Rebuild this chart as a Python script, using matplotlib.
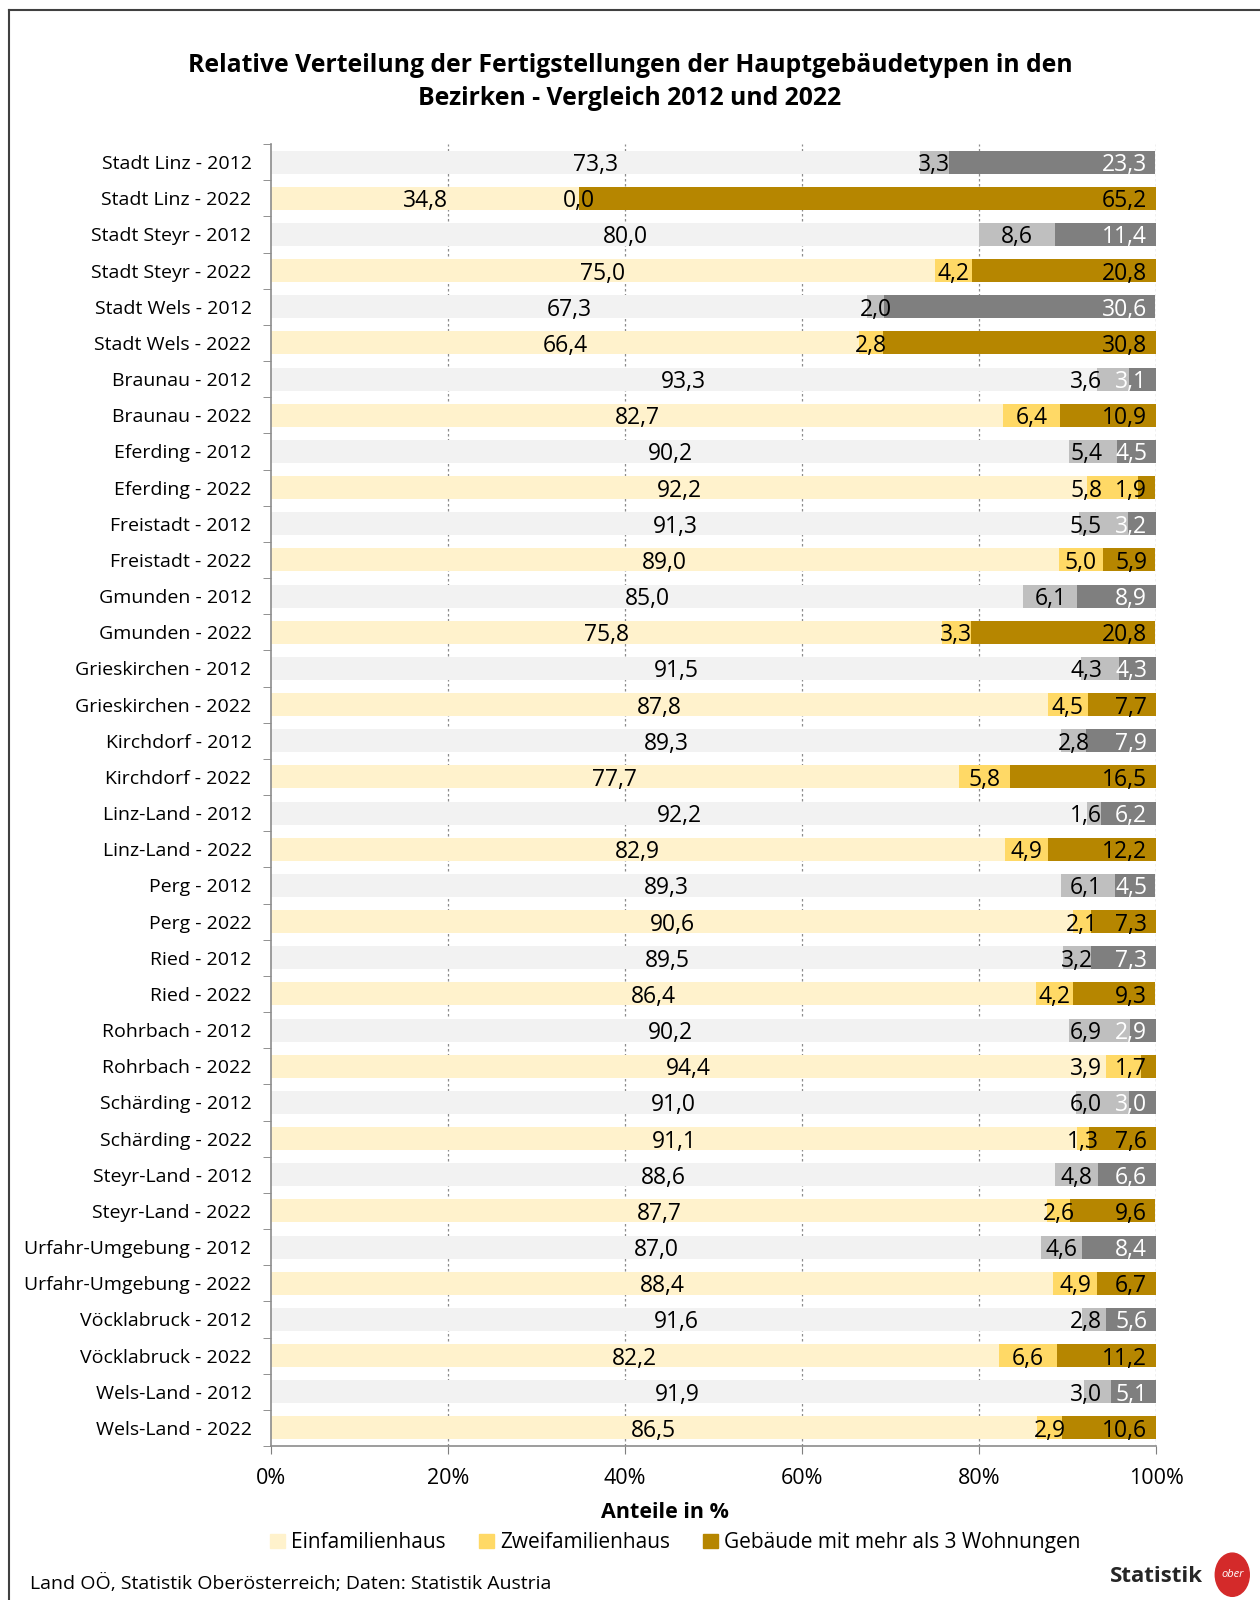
import numpy as np
import matplotlib
matplotlib.use("Agg")
import matplotlib.pyplot as plt
from matplotlib.lines import Line2D
from matplotlib.patches import Circle, Patch

plt.rcParams['font.family'] = ['Open Sans', 'DejaVu Sans']

districts = ["Stadt Linz", "Stadt Steyr", "Stadt Wels", "Braunau", "Eferding",
             "Freistadt", "Gmunden", "Grieskirchen", "Kirchdorf", "Linz-Land",
             "Perg", "Ried", "Rohrbach", "Schärding", "Steyr-Land",
             "Urfahr-Umgebung", "Vöcklabruck", "Wels-Land"]
years = ["2012", "2022"]

# shares in %, one row per district and year (2012, 2022 alternating)
efh = [73.3, 34.8, 80.0, 75.0, 67.3, 66.4, 93.3, 82.7, 90.2, 92.2,
       91.3, 89.0, 85.0, 75.8, 91.5, 87.8, 89.3, 77.7, 92.2, 82.9,
       89.3, 90.6, 89.5, 86.4, 90.2, 94.4, 91.0, 91.1, 88.6, 87.7,
       87.0, 88.4, 91.6, 82.2, 91.9, 86.5]
zfh = [3.3, 0.0, 8.6, 4.2, 2.0, 2.8, 3.6, 6.4, 5.4, 5.8,
       5.5, 5.0, 6.1, 3.3, 4.3, 4.5, 2.8, 5.8, 1.6, 4.9,
       6.1, 2.1, 3.2, 4.2, 6.9, 3.9, 6.0, 1.3, 4.8, 2.6,
       4.6, 4.9, 2.8, 6.6, 3.0, 2.9]
mfh = [23.3, 65.2, 11.4, 20.8, 30.6, 30.8, 3.1, 10.9, 4.5, 1.9,
       3.2, 5.9, 8.9, 20.8, 4.3, 7.7, 7.9, 16.5, 6.2, 12.2,
       4.5, 7.3, 7.3, 9.3, 2.9, 1.7, 3.0, 7.6, 6.6, 9.6,
       8.4, 6.7, 5.6, 11.2, 5.1, 10.6]

labels = [f"{d} - {y}" for d in districts for y in years]
n = len(labels)

colors_2012 = ["#f2f2f2", "#bfbfbf", "#7f7f7f"]
colors_2022 = ["#fff2cc", "#ffd966", "#b68600"]


def fmt(v):
    return f"{v:.1f}".replace(".", ",")


fig = plt.figure(figsize=(12.6, 16), dpi=100)
ax = fig.add_axes([0.2151, 0.09625, 0.7024, 0.81375])

y = np.arange(n)
efh_a = np.array(efh)
zfh_a = np.array(zfh)
mfh_a = np.array(mfh)
col = [colors_2012 if i % 2 == 0 else colors_2022 for i in range(n)]

ax.barh(y, efh_a, height=0.64, color=[c[0] for c in col], zorder=2)
ax.barh(y, zfh_a, left=efh_a, height=0.64, color=[c[1] for c in col], zorder=2)
ax.barh(y, mfh_a, left=efh_a + zfh_a, height=0.64, color=[c[2] for c in col], zorder=2)

ax.set_xlim(0, 100)
ax.set_ylim(n - 0.5, -0.5)
ax.set_xticks(np.arange(0, 101, 20))
ax.set_xticklabels([f"{v}%" for v in range(0, 101, 20)], fontsize=15.5)
ax.set_yticks(y)
ax.set_yticklabels(labels, fontsize=14)
ax.set_yticks(np.arange(-0.5, n, 1), minor=True)
ax.tick_params(axis='y', which='major', length=0, pad=14)
ax.tick_params(axis='y', which='minor', length=6, color='#7f7f7f', direction='out')
ax.tick_params(axis='x', length=6, color='#7f7f7f', pad=10)
for s in ['top', 'right']:
    ax.spines[s].set_visible(False)
for s in ['left', 'bottom']:
    ax.spines[s].set_color('#8c8c8c')
    ax.spines[s].set_linewidth(1.2)
for xv in range(20, 101, 20):
    ax.axvline(xv, color='#8c8c8c', linestyle=(0, (2, 2)), linewidth=0.9, zorder=1)

# data labels
zt_list, mt_list = [], []
for i in range(n):
    ax.text(efh_a[i] / 2, y[i], fmt(efh_a[i]), ha='center', va='center_baseline',
            fontsize=16.5, zorder=3)
    zt = ax.text(efh_a[i] + zfh_a[i] / 2, y[i], fmt(zfh_a[i]), ha='center',
                 va='center_baseline', fontsize=16.5, zorder=3)
    mt = ax.text(99.0, y[i], fmt(mfh_a[i]), ha='right', va='center_baseline', fontsize=16.5,
                 zorder=3, color='white' if i % 2 == 0 else 'black')
    zt_list.append(zt)
    mt_list.append(mt)

# move ZFH labels left when they would run into the MFH label
fig.canvas.draw()
r = fig.canvas.get_renderer()
ax_w = ax.get_window_extent(r).width
for zt, mt in zip(zt_list, mt_list):
    bz = zt.get_window_extent(r)
    bm = mt.get_window_extent(r)
    limit = bm.x0 - 13
    if bz.x1 > limit:
        x0, y0 = zt.get_position()
        zt.set_position((x0 - (bz.x1 - limit) / ax_w * 100, y0))

fig.text(0.5, 0.9487, "Relative Verteilung der Fertigstellungen der Hauptgebäudetypen in den\n"
         "Bezirken - Vergleich 2012 und 2022", ha='center', va='center', fontsize=17.8,
         fontweight='bold', linespacing=1.4)

fig.text(0.528, 0.0548, "Anteile in %", ha='center', va='center', fontsize=15.5,
         fontweight='bold')

handles = [Patch(color=c) for c in colors_2022]
fig.legend(handles, ["Einfamilienhaus", "Zweifamilienhaus", "Gebäude mit mehr als 3 Wohnungen"],
           loc='center', bbox_to_anchor=(0.536, 0.0358), ncol=3, frameon=False, fontsize=15,
           handlelength=0.7, handleheight=0.7, handletextpad=0.3, columnspacing=1.6)

fig.text(0.024, 0.0105, "Land OÖ, Statistik Oberösterreich; Daten: Statistik Austria",
         fontsize=14, va='center')
fig.text(0.955, 0.0148, "Statistik", fontsize=16, fontweight='bold', ha='right', va='center',
         color='#262626')
fig.add_artist(Circle((0.978, 0.0158), 0.0135, transform=fig.transFigure, color='#d42a2a'))
fig.text(0.978, 0.0158, "ober", fontsize=8, color='white', style='italic', ha='center', va='center')

# frame lines at the left and top
fig.add_artist(Line2D([0.0075, 0.0075], [0, 0.9935], transform=fig.transFigure, color='#404040', lw=1.5))
fig.add_artist(Line2D([0.0075, 1], [0.9935, 0.9935], transform=fig.transFigure, color='#404040', lw=1.5))

fig.savefig("out.png", dpi=100)
